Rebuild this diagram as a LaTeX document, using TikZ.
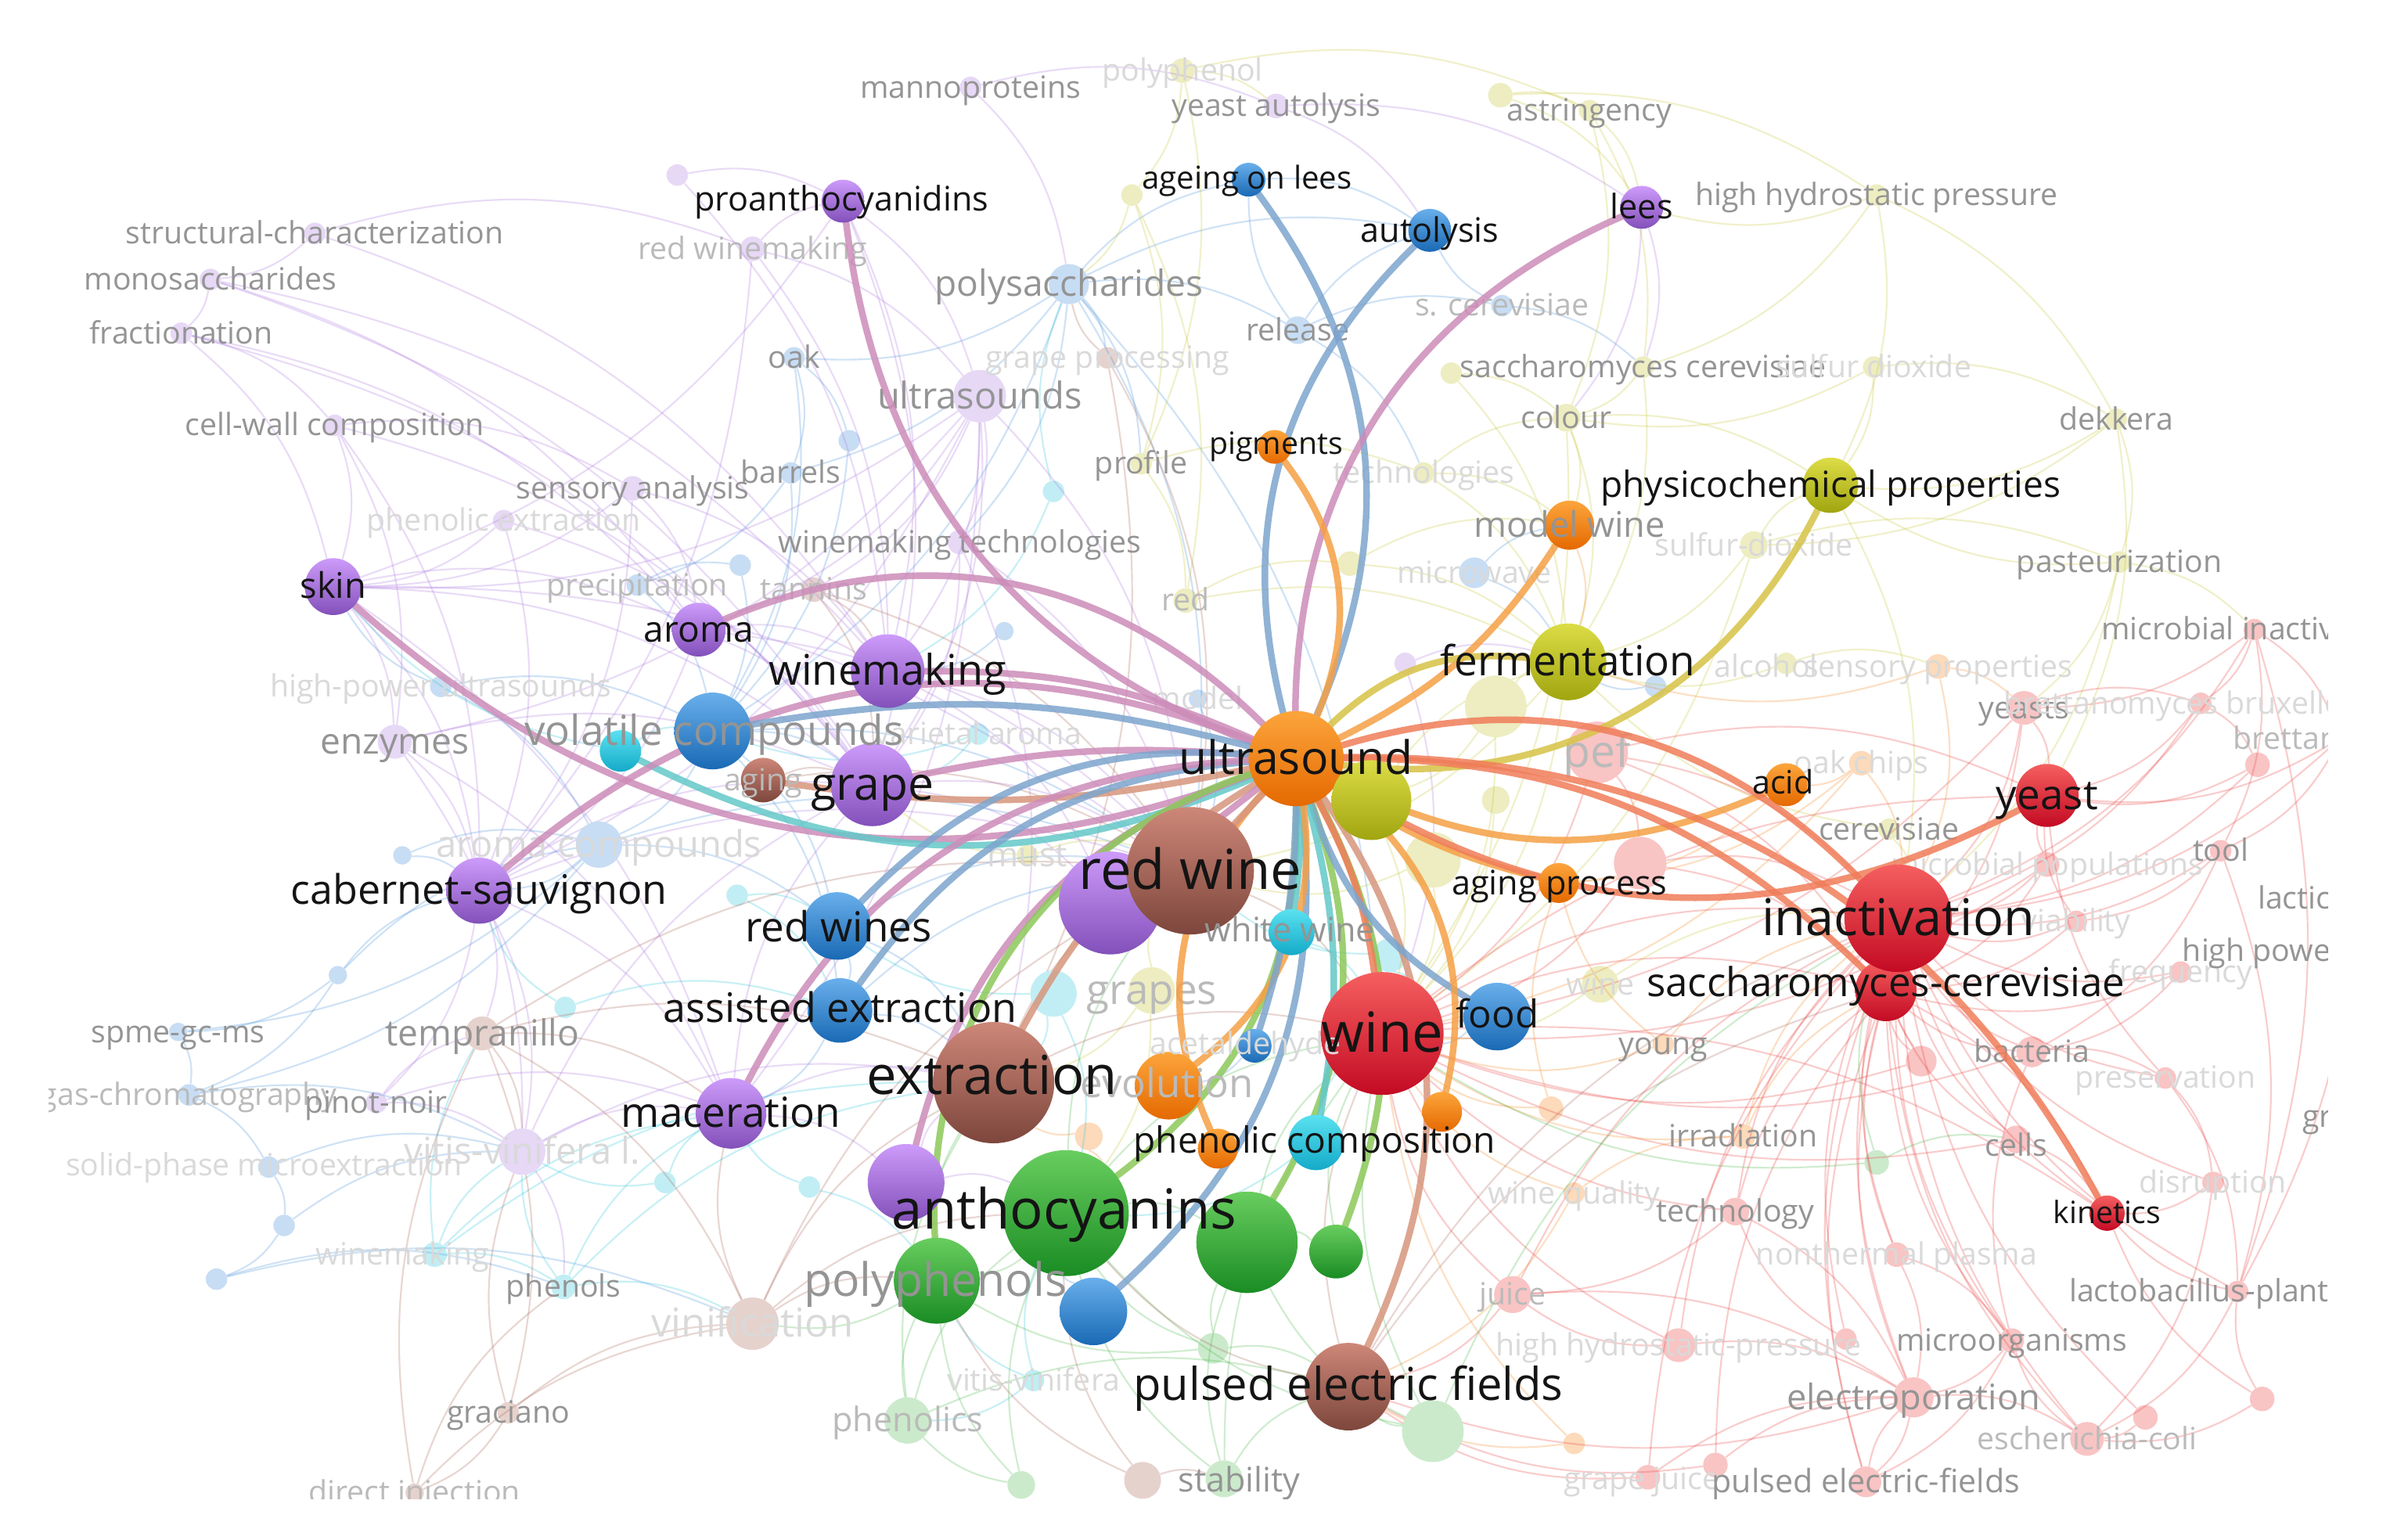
\documentclass[tikz,border=0pt]{standalone}
\usepackage{fontspec}
\setmainfont{Open Sans}
\definecolor{Rt}{RGB}{245,95,95}\definecolor{Rb}{RGB}{195,10,35}
\definecolor{Gt}{RGB}{105,205,95}\definecolor{Gb}{RGB}{25,140,35}
\definecolor{Bt}{RGB}{105,175,235}\definecolor{Bb}{RGB}{25,105,180}
\definecolor{Yt}{RGB}{220,220,70}\definecolor{Yb}{RGB}{160,165,15}
\definecolor{Pt}{RGB}{205,155,250}\definecolor{Pb}{RGB}{130,80,185}
\definecolor{Ct}{RGB}{90,225,240}\definecolor{Cb}{RGB}{20,170,200}
\definecolor{Ot}{RGB}{252,165,60}\definecolor{Ob}{RGB}{228,105,0}
\definecolor{Nt}{RGB}{205,135,120}\definecolor{Nb}{RGB}{125,70,60}
\definecolor{Rm}{RGB}{235,70,70}\definecolor{Gm}{RGB}{80,185,80}
\definecolor{Bm}{RGB}{80,150,220}\definecolor{Ym}{RGB}{200,200,60}
\definecolor{Pm}{RGB}{175,125,225}\definecolor{Cm}{RGB}{50,200,220}
\definecolor{Om}{RGB}{245,140,40}\definecolor{Nm}{RGB}{170,105,90}
\colorlet{fR}{Rm!32!white}\colorlet{fG}{Gm!30!white}\colorlet{fB}{Bm!32!white}
\colorlet{fY}{Ym!32!white}\colorlet{fP}{Pm!30!white}\colorlet{fC}{Cm!30!white}
\colorlet{fO}{Om!32!white}\colorlet{fN}{Nm!30!white}
\definecolor{eR}{RGB}{240,125,90}\definecolor{eP}{RGB}{205,140,185}
\definecolor{eB}{RGB}{125,165,205}\definecolor{eY}{RGB}{215,195,70}
\definecolor{eG}{RGB}{140,200,90}\definecolor{eN}{RGB}{215,150,125}
\definecolor{eC}{RGB}{100,200,200}\definecolor{eO}{RGB}{245,160,70}
\tikzset{
  hn/.style={circle, inner sep=0pt, minimum size=#1pt, draw=none},
  sR/.style={top color=Rt, bottom color=Rb},
  sG/.style={top color=Gt, bottom color=Gb},
  sB/.style={top color=Bt, bottom color=Bb},
  sY/.style={top color=Yt, bottom color=Yb},
  sP/.style={top color=Pt, bottom color=Pb},
  sC/.style={top color=Ct, bottom color=Cb},
  sO/.style={top color=Ot, bottom color=Ob},
  sN/.style={top color=Nt, bottom color=Nb},
  fe/.style={line width=1.1pt, opacity=0.27},
  he/.style={line width=4.3pt, opacity=0.85, line cap=round},
  hl/.style={text=black!92},
  L1/.style={text=black!42},
  L2/.style={text=black!27},
  L3/.style={text=black!15},
}
\newcommand\lab[5]{\node[anchor=base, inner sep=0pt, font=\fontsize{#3}{#3}\selectfont, #4] (#1) at ([yshift={-0.34*#3pt}]#2) {#5};}
\newcommand\fnd[5]{\node[hn=#4, fill=#5] (#1) at (#2,#3) {};}
\newcommand\hnd[5]{\node[hn=#4, #5] (#1) at (#2,#3) {};}
\begin{document}
\begin{tikzpicture}[x=1pt,y=-1pt]
\useasboundingbox (0,0) rectangle (1568,991);
\fill[white] (0,0) rectangle (1568,991);
\begin{scope}
\clip (32,0) rectangle (1516,976);
% ---------- node positions (faded) ----------
\fnd{mannop}{632}{57}{14}{fP}\fnd{polyph}{770}{46}{16}{fY}\fnd{yaut}{831}{69}{16}{fP}
\fnd{yn1}{977}{62}{16}{fY}\fnd{astr}{1035}{72}{14}{fY}\fnd{yn2}{737}{127}{14}{fY}
\fnd{pn1}{441}{114}{14}{fP}\fnd{hhp}{1222}{127}{14}{fY}\fnd{struc}{205}{152}{14}{fP}
\fnd{monos}{137}{182}{14}{fP}\fnd{fract}{118}{217}{14}{fP}\fnd{redwm}{490}{162}{16}{fP}
\fnd{polys}{696}{185}{26}{fB}\fnd{relea}{845}{215}{18}{fB}\fnd{scer}{978}{199}{14}{fB}
\fnd{oak}{517}{233}{14}{fB}\fnd{grpr}{721}{233}{14}{fN}\fnd{usds}{638}{258}{34}{fP}
\fnd{bn1}{553}{287}{14}{fB}\fnd{prof}{743}{302}{14}{fY}\fnd{cn1}{686}{320}{14}{fC}
\fnd{tech}{927}{308}{14}{fY}\fnd{saccb}{1070}{239}{14}{fY}\fnd{yn3}{945}{243}{14}{fY}
\fnd{sdiox}{1220}{239}{14}{fY}\fnd{colour}{1020}{272}{18}{fY}\fnd{dekk}{1378}{273}{14}{fY}
\fnd{cwc}{218}{277}{14}{fP}\fnd{sensa}{412}{318}{16}{fP}\fnd{barr}{515}{308}{14}{fB}
\fnd{phex}{328}{339}{14}{fP}\fnd{wmt}{625}{353}{16}{fP}\fnd{sfdx}{1142}{355}{18}{fY}
\fnd{past}{1380}{366}{14}{fY}\fnd{micw}{960}{373}{20}{fB}\fnd{yn4}{879}{367}{16}{fY}
\fnd{prec}{415}{381}{14}{fB}\fnd{bn2}{482}{368}{14}{fB}\fnd{tann}{530}{384}{16}{fN}
\fnd{red}{772}{391}{16}{fY}\fnd{bn3}{654}{411}{12}{fB}\fnd{pn2}{915}{432}{14}{fP}
\fnd{micin}{1468}{410}{14}{fR}\fnd{alc}{1163}{432}{14}{fY}\fnd{sensp}{1262}{434}{16}{fO}
\fnd{bn4}{1078}{447}{14}{fB}\fnd{hpu}{287}{447}{14}{fB}\fnd{enz}{257}{483}{22}{fP}
\fnd{model}{780}{455}{12}{fB}\fnd{varar}{637}{478}{14}{fC}\fnd{yeasts}{1318}{461}{22}{fR}
\fnd{bbrux}{1433}{458}{14}{fR}\fnd{rn1}{1470}{498}{16}{fR}\fnd{brett}{1524}{481}{14}{fR}
\fnd{yn5}{974}{460}{40}{fY}\fnd{yn6}{974}{521}{18}{fY}\fnd{yn7}{933}{560}{36}{fY}
\fnd{pef}{1040}{490}{40}{fR}\fnd{oakch}{1212}{497}{16}{fO}\fnd{arcomp}{390}{550}{30}{fB}
\fnd{bn5}{262}{557}{12}{fB}\fnd{must}{669}{557}{14}{fY}\fnd{cerev}{1230}{540}{14}{fY}
\fnd{mpop}{1333}{563}{16}{fR}\fnd{tool}{1446}{554}{14}{fR}\fnd{rn2}{1068}{562}{34}{fR}
\fnd{cn2}{480}{583}{14}{fC}\fnd{qdet}{220}{635}{12}{fB}\fnd{viab}{1352}{600}{14}{fR}
\fnd{freq}{1420}{633}{14}{fR}\fnd{grapes}{750}{645}{30}{fY}\fnd{cn3}{686}{647}{30}{fC}
\fnd{cn8}{905}{622}{22}{fC}\fnd{winef}{1042}{641}{24}{fY}\fnd{spme}{116}{672}{12}{fB}
\fnd{temp}{314}{673}{22}{fN}\fnd{cn4}{368}{656}{14}{fC}\fnd{young}{1083}{680}{14}{fO}
\fnd{bact}{1323}{685}{20}{fR}\fnd{rn3}{1251}{691}{20}{fR}\fnd{gaschr}{123}{713}{14}{fB}
\fnd{pinot}{245}{718}{14}{fP}\fnd{pres}{1410}{702}{14}{fR}\fnd{vitis}{340}{750}{30}{fP}
\fnd{spme2}{175}{760}{14}{fB}\fnd{cn5}{433}{770}{14}{fC}\fnd{cn6}{527}{773}{14}{fC}
\fnd{on1}{709}{740}{18}{fO}\fnd{on2}{1010}{722}{16}{fO}\fnd{irr}{1135}{740}{16}{fO}
\fnd{cells}{1313}{742}{18}{fR}\fnd{gn1}{1222}{757}{16}{fG}\fnd{disr}{1441}{770}{14}{fR}
\fnd{wq}{1025}{777}{14}{fO}\fnd{techn}{1130}{789}{18}{fR}\fnd{ntp}{1235}{817}{16}{fR}
\fnd{bn6}{185}{798}{14}{fB}\fnd{bn7}{141}{833}{14}{fB}\fnd{wmf}{283}{817}{16}{fC}
\fnd{phen}{367}{838}{16}{fC}\fnd{vinif}{490}{862}{34}{fN}\fnd{lacto}{1457}{841}{14}{fR}
\fnd{juice}{985}{843}{24}{fR}\fnd{hhp2}{1093}{876}{22}{fR}\fnd{rn4}{1202}{872}{14}{fR}
\fnd{microo}{1310}{873}{16}{fR}\fnd{gn2}{790}{878}{20}{fG}\fnd{cn7}{673}{899}{14}{fC}
\fnd{grac}{331}{920}{14}{fN}\fnd{phenlc}{591}{925}{30}{fG}\fnd{antiox}{933}{932}{40}{fG}
\fnd{on3}{1025}{940}{14}{fO}\fnd{elec}{1246}{910}{26}{fR}\fnd{esch}{1359}{937}{22}{fR}
\fnd{rn5}{1397}{923}{16}{fR}\fnd{rn6}{1473}{911}{16}{fR}\fnd{grj}{1073}{962}{16}{fR}
\fnd{rn7}{1117}{954}{16}{fR}\fnd{pefd}{1215}{965}{20}{fR}\fnd{stab}{797}{963}{24}{fG}
\fnd{nn1}{744}{964}{24}{fN}\fnd{gn3}{665}{967}{18}{fG}\fnd{dinj}{270}{972}{12}{fN}
% ---------- highlighted node positions (invisible anchors) ----------
\begin{scope}[opacity=0]
\hnd{U}{844}{494}{62}{}\hnd{yg}{893}{521}{52}{}\hnd{pbig}{723}{588}{67}{}
\hnd{rw}{775}{567}{83}{}\hnd{ww}{841}{607}{30}{}\hnd{wine}{900}{673}{80}{}
\hnd{food}{975}{662}{44}{}\hnd{sacc}{1228}{645}{40}{}\hnd{inact}{1236}{598}{70}{}
\hnd{yeast}{1333}{518}{41}{}\hnd{kin}{1372}{790}{23}{}\hnd{acid}{1163}{511}{28}{}
\hnd{agp}{1015}{575}{26}{}\hnd{ferm}{1021}{431}{50}{}\hnd{phys}{1192}{316}{36}{}
\hnd{mwine}{1022}{342}{32}{}\hnd{pigm}{830}{291}{22}{}\hnd{lees}{1069}{135}{28}{}
\hnd{autol}{931}{150}{28}{}\hnd{aol}{813}{117}{22}{}\hnd{proan}{549}{131}{28}{}
\hnd{skin}{217}{382}{37}{}\hnd{aroma}{455}{410}{35}{}\hnd{wmk}{578}{437}{48}{}
\hnd{volc}{464}{476}{50}{}\hnd{cyan1}{404}{489}{27}{}\hnd{aging}{497}{508}{29}{}
\hnd{grape}{568}{511}{54}{}\hnd{cab}{312}{580}{43}{}\hnd{rws}{545}{603}{44}{}
\hnd{asx}{547}{658}{42}{}\hnd{mac}{476}{725}{46}{}\hnd{extr}{647}{705}{79}{}
\hnd{evol}{761}{707}{44}{}\hnd{acet}{817}{681}{22}{}\hnd{or2}{939}{724}{26}{}
\hnd{or3}{793}{748}{26}{}\hnd{phc}{857}{744}{36}{}\hnd{pur2}{590}{770}{50}{}
\hnd{anth}{694}{790}{82}{}\hnd{polyp}{610}{834}{56}{}\hnd{bl2}{712}{854}{44}{}
\hnd{gr1}{812}{809}{66}{}\hnd{gr2}{870}{815}{35}{}\hnd{pefl}{878}{903}{57}{}
\end{scope}
% ---------- faint links ----------
\foreach \a/\b in {struc/monos,struc/redwm,monos/fract,monos/wmk,monos/grape,fract/cwc,fract/grape,fract/aroma,cwc/sensa,cwc/skin,cwc/enz,redwm/proan,redwm/usds,redwm/wmk,redwm/cab,proan/usds,proan/wmk,proan/grape,proan/skin,mannop/yaut,mannop/polys,yaut/lees,yaut/autol,pn1/proan,pn1/wmk,usds/wmk,usds/grape,usds/aroma,usds/tann,usds/cab,usds/enz,usds/wmt,usds/mac,sensa/aroma,sensa/wmk,sensa/skin,phex/skin,phex/grape,phex/cab,wmt/grape,wmt/extr,skin/aroma,skin/grape,skin/enz,skin/cab,skin/mac,aroma/grape,aroma/cab,aroma/wmk,enz/grape,enz/cab,enz/mac,enz/vitis,cab/vitis,cab/pinot,cab/grape,cab/mac,cab/temp,pinot/vitis,pinot/temp,vitis/mac,vitis/grape,vitis/phen,mac/grape,mac/pur2,mac/extr,grape/pbig,wmk/pbig,pur2/anth,pur2/extr,lees/saccb,lees/colour,pn2/ferm,pn2/wine,struc/wmk,monos/aroma,fract/skin,cwc/grape,cwc/cab,usds/skin,usds/rw,wmt/rw,sensa/cab,pinot/mac,vitis/extr,grape/rw,wmk/rw,aroma/rw,cab/rw,skin/rw}
  \draw[fe, draw=Pm] (\a) to[bend left=18] (\b);
\foreach \a/\b in {polys/relea,polys/oak,polys/barr,polys/wmt,polys/grpr,polys/prof,polys/aol,polys/autol,polys/volc,relea/aol,relea/autol,relea/scer,relea/tech,scer/autol,scer/saccb,oak/barr,oak/volc,oak/bn1,barr/volc,barr/prec,bn1/volc,prec/volc,prec/bn2,bn2/volc,hpu/volc,hpu/arcomp,hpu/skin,volc/arcomp,volc/rws,volc/asx,volc/grape,arcomp/rws,arcomp/cab,arcomp/spme,arcomp/gaschr,bn5/arcomp,bn5/cab,qdet/arcomp,qdet/gaschr,qdet/spme,spme/gaschr,gaschr/spme2,spme2/bn6,bn6/bn7,bn7/vinif,spme2/vitis,rws/asx,rws/extr,asx/extr,asx/mac,micw/ferm,micw/mwine,model/rw,bn3/wmk,bn4/ferm,food/wine,bl2/anth,acet/evol,aol/autol,polys/rw,polys/wine,volc/rw,arcomp/rw,rws/rw,asx/rw,qdet/cab,gaschr/vitis,bn6/vitis,bn7/phen}
  \draw[fe, draw=Bm] (\a) to[bend left=18] (\b);
\foreach \a/\b in {cn1/polys,cn1/wmk,varar/volc,varar/grape,cn2/rws,cn2/asx,cn3/extr,cn3/rws,cn4/cab,cn4/asx,cn5/mac,cn5/vitis,cn6/mac,cn6/polyp,wmf/vitis,wmf/phen,wmf/mac,wmf/temp,phen/vitis,phen/mac,phen/vinif,cn7/anth,cn7/polyp,cn7/phenlc,ww/wine,phc/anth,phc/wine,cyan1/volc,cyan1/skin,cn8/wine,cn8/rw,wmf/extr,phen/extr,cn3/anth}
  \draw[fe, draw=Cm] (\a) to[bend left=18] (\b);
\foreach \a/\b in {polyph/yaut,polyph/yn2,polyph/astr,yn1/astr,yn1/lees,yn1/hhp,astr/lees,astr/saccb,astr/colour,hhp/lees,hhp/dekk,hhp/phys,yn2/prof,yn2/polys,prof/red,prof/tech,tech/colour,tech/mwine,saccb/colour,saccb/ferm,yn3/colour,yn3/ferm,sdiox/phys,sdiox/dekk,sdiox/colour,colour/mwine,colour/ferm,colour/phys,dekk/past,dekk/sfdx,sfdx/phys,sfdx/ferm,sfdx/past,past/yeasts,past/micin,red/yn4,red/ferm,yn4/ferm,yn4/mwine,alc/ferm,alc/sensp,must/grape,must/rw,grapes/rw,grapes/anth,grapes/extr,cerev/inact,cerev/ferm,winef/wine,winef/inact,yg/ferm,yg/wine,yn5/ferm,yn5/wine,yn6/wine,yn7/rw,yn7/wine,yn5/yg,dekk/phys,past/phys,hhp/saccb,polyph/prof,yn2/red,tech/ferm,colour/wine,phys/inact,ferm/wine,ferm/rw,sfdx/wine,dekk/yeast,past/inact}
  \draw[fe, draw=Ym] (\a) to[bend left=18] (\b);
\foreach \a/\b in {micin/yeasts,micin/bbrux,micin/inact,micin/brett,yeasts/inact,yeasts/yeast,yeasts/bbrux,yeasts/sacc,bbrux/yeast,bbrux/rn1,rn1/yeast,rn1/inact,brett/yeast,brett/tool,pef/inact,pef/wine,pef/rn2,rn2/inact,rn2/wine,mpop/yeast,mpop/inact,mpop/sacc,tool/inact,tool/viab,tool/lacto,viab/inact,viab/sacc,freq/inact,freq/bact,bact/inact,bact/sacc,bact/pres,rn3/inact,rn3/wine,pres/inact,pres/yeast,cells/inact,cells/sacc,cells/kin,disr/inact,disr/kin,techn/inact,techn/wine,techn/juice,ntp/inact,ntp/microo,lacto/inact,lacto/kin,juice/wine,juice/pefl,hhp2/inact,hhp2/wine,hhp2/juice,rn4/inact,rn4/techn,microo/inact,microo/elec,microo/bact,elec/inact,elec/pefl,elec/esch,elec/pefd,esch/inact,esch/microo,rn5/inact,rn6/lacto,rn6/kin,grj/inact,grj/pefl,rn7/elec,rn7/sacc,pefd/inact,pefd/elec,wine/sacc,wine/inact,sacc/kin,kin/inact,micin/tool,micin/lacto,brett/lacto,tool/bact,pres/lacto,pres/disr,disr/esch,lacto/esch,rn5/esch,rn6/esch,microo/pefd,ntp/elec,techn/elec,juice/elec,hhp2/elec,yeasts/wine,bbrux/inact,brett/inact,mpop/wine,viab/yeast,freq/sacc,bact/wine,cells/wine,rn3/sacc,techn/sacc,ntp/sacc,microo/sacc,elec/sacc,esch/sacc,juice/inact,pef/sacc,pef/yeast,rn2/sacc,grj/elec,rn7/pefl,pefd/sacc,wine/yeast,wine/kin}
  \draw[fe, draw=Rm] (\a) to[bend left=18] (\b);
\foreach \a/\b in {sensp/ferm,sensp/yeasts,oakch/acid,oakch/inact,oakch/agp,young/wine,young/agp,irr/inact,irr/wine,wq/wine,wq/irr,on1/extr,on1/anth,on2/wine,on3/pefl,acid/agp,mwine/ferm,sensp/inact,oakch/wine,irr/sacc,wq/pefl,on2/agp,young/inact,on3/wine}
  \draw[fe, draw=Om] (\a) to[bend left=18] (\b);
\foreach \a/\b in {gn1/inact,gn1/cells,gn2/anth,gn2/pefl,gn2/gr1,antiox/pefl,antiox/wine,antiox/gr1,phenlc/anth,phenlc/polyp,phenlc/pefl,stab/anth,stab/pefl,gn3/polyp,gn3/phenlc,anth/polyp,anth/gr1,gr1/gr2,gr2/wine,polyp/vinif,gn1/wine,antiox/anth,stab/gr1,gn3/anth,phenlc/extr,gn2/polyp,anth/wine,gr1/wine,anth/rw,polyp/extr,stab/wine,antiox/inact}
  \draw[fe, draw=Gm] (\a) to[bend left=18] (\b);
\foreach \a/\b in {grpr/polys,grpr/rw,grpr/extr,tann/rw,tann/wmk,tann/grape,aging/grape,aging/rw,temp/vitis,temp/grac,temp/vinif,temp/extr,temp/rw,grac/vinif,grac/dinj,dinj/vinif,dinj/temp,vinif/extr,vinif/anth,vinif/polyp,vinif/rw,nn1/anth,nn1/stab,extr/rw,pefl/wine,pefl/inact,grac/vitis,dinj/phen,vinif/mac,temp/mac,nn1/polyp,pefl/sacc,extr/wine,rw/wine,pefl/anth}
  \draw[fe, draw=Nm] (\a) to[bend left=18] (\b);
% redraw larger faded nodes over faint links
\fnd{mannop2}{632}{57}{14}{fP}\fnd{usds2}{638}{258}{34}{fP}\fnd{polys2}{696}{185}{26}{fB}
\fnd{pef2}{1040}{490}{40}{fR}\fnd{rn2b}{1068}{562}{34}{fR}\fnd{vinif2}{490}{862}{34}{fN}
\fnd{vitis2}{340}{750}{30}{fP}\fnd{arcomp2}{390}{550}{30}{fB}\fnd{grapes2}{750}{645}{30}{fY}
\fnd{cn3b}{686}{647}{30}{fC}\fnd{antiox2}{933}{932}{40}{fG}\fnd{phenlc2}{591}{925}{30}{fG}
\fnd{yn5b}{974}{460}{40}{fY}\fnd{yn7b}{933}{560}{36}{fY}\fnd{enz2}{257}{483}{22}{fP}
\fnd{temp2}{314}{673}{22}{fN}\fnd{elec2}{1246}{910}{26}{fR}\fnd{juice2}{985}{843}{24}{fR}
% ---------- faded labels ----------
\lab{mannop-l}{mannop}{20}{L1}{mannoproteins}
\lab{polyph-l}{polyph}{20}{L3}{polyphenol}
\lab{yaut-l}{yaut}{20}{L1}{yeast autolysis}
\lab{astr-l}{astr}{20}{L1}{astringency}
\lab{hhp-l}{hhp}{20}{L1}{high hydrostatic pressure}
\lab{struc-l}{struc}{20}{L1}{structural-characterization}
\lab{monos-l}{monos}{20}{L1}{monosaccharides}
\lab{fract-l}{fract}{20}{L1}{fractionation}
\lab{redwm-l}{redwm}{20}{L2}{red winemaking}
\lab{polys-l}{polys}{23.5}{L1}{polysaccharides}
\lab{relea-l}{relea}{20}{L1}{release}
\lab{scer-l}{scer}{20}{L2}{s. cerevisiae}
\lab{oak-l}{oak}{20}{L1}{oak}
\lab{grpr-l}{grpr}{20}{L3}{grape processing}
\lab{usds-l}{usds}{24}{L1}{ultrasounds}
\lab{prof-l}{prof}{20}{L1}{profile}
\lab{tech-l}{tech}{20}{L3}{technologies}
\lab{saccb-l}{saccb}{20}{L1}{saccharomyces cerevisiae}
\lab{sdiox-l}{sdiox}{20}{L3}{sulfur dioxide}
\lab{colour-l}{colour}{20}{L1}{colour}
\lab{dekk-l}{dekk}{20}{L1}{dekkera}
\lab{cwc-l}{cwc}{20}{L1}{cell-wall composition}
\lab{sensa-l}{sensa}{20}{L1}{sensory analysis}
\lab{barr-l}{barr}{20}{L1}{barrels}
\lab{phex-l}{phex}{20}{L3}{phenolic extraction}
\lab{wmt-l}{wmt}{20}{L1}{winemaking technologies}
\lab{sfdx-l}{sfdx}{20}{L3}{sulfur-dioxide}
\lab{past-l}{past}{20}{L1}{pasteurization}
\lab{micw-l}{micw}{20}{L3}{microwave}
\lab{prec-l}{prec}{20}{L2}{precipitation}
\lab{tann-l}{tann}{20}{L2}{tannins}
\lab{red-l}{red}{20}{L2}{red}
\lab{micin-l}{micin}{20}{L1}{microbial inactivation}
\lab{alc-l}{1150,434}{20}{L3}{alcohol}
\lab{sensp-l}{sensp}{20}{L3}{sensory properties}
\lab{hpu-l}{hpu}{20}{L3}{high-power ultrasounds}
\lab{enz-l}{enz}{23.5}{L1}{enzymes}
\lab{model-l}{model}{20}{L3}{model}
\lab{varar-l}{varar}{20}{L3}{varietal aroma}
\lab{yeasts-l}{yeasts}{20}{L1}{yeasts}
\lab{bbrux-l}{bbrux}{20}{L3}{brettanomyces bruxellensis}
\lab{brett-l}{brett}{20}{L2}{brettanomyces}
\lab{pef-l}{pef}{29}{L2}{pef}
\lab{oakch-l}{oakch}{20}{L3}{oak chips}
\lab{arcomp-l}{arcomp}{24}{L3}{aroma compounds}
\lab{must-l}{must}{22}{L3}{must}
\lab{cerev-l}{cerev}{20}{L1}{cerevisiae}
\lab{mpop-l}{mpop}{20}{L3}{microbial populations}
\lab{tool-l}{tool}{20}{L1}{tool}
\lab{lactic-l}{1470,585}{20}{L1,anchor=base west}{lactic}
\lab{viab-l}{viab}{20}{L3}{viability}
\lab{freq-l}{freq}{20}{L3}{frequency}
\lab{hpow-l}{1421,619}{20}{L1,anchor=base west}{high power}
\lab{grapes-l}{grapes}{27}{L2}{grapes}
\lab{winef-l}{winef}{20}{L3}{wine}
\lab{spme-l}{spme}{20}{L1}{spme-gc-ms}
\lab{temp-l}{temp}{23.5}{L1}{tempranillo}
\lab{young-l}{young}{20}{L1}{young}
\lab{bact-l}{bact}{20}{L1}{bacteria}
\lab{gaschr-l}{gaschr}{20}{L2}{gas-chromatography}
\lab{pinot-l}{pinot}{20}{L1}{pinot-noir}
\lab{pres-l}{pres}{20}{L3}{preservation}
\lab{gr-l}{1499,727}{20}{L1,anchor=base west}{gr}
\lab{vitis-l}{vitis}{24}{L3}{vitis-vinifera l.}
\lab{spme2-l}{172,759}{20}{L3}{solid-phase microextraction}
\lab{irr-l}{irr}{20}{L1}{irradiation}
\lab{cells-l}{1313,746}{20}{L1}{cells}
\lab{disr-l}{disr}{20}{L3}{disruption}
\lab{wq-l}{wq}{20}{L3}{wine quality}
\lab{techn-l}{techn}{20}{L1}{technology}
\lab{ntp-l}{ntp}{20}{L3}{nonthermal plasma}
\lab{wmf-l}{262,817}{20}{L3}{winemaking}
\lab{phen-l}{phen}{20}{L1}{phenols}
\lab{vinif-l}{vinif}{26}{L3}{vinification}
\lab{lacto-l}{lacto}{20}{L1}{lactobacillus-plantarum}
\lab{juice-l}{juice}{20}{L2}{juice}
\lab{hhp2-l}{hhp2}{20}{L3}{high hydrostatic-pressure}
\lab{microo-l}{microo}{20}{L1}{microorganisms}
\lab{cn7-l}{cn7}{20}{L3}{vitis-vinifera}
\lab{grac-l}{grac}{20}{L1}{graciano}
\lab{phenlc-l}{phenlc}{22}{L2}{phenolics}
\lab{elec-l}{elec}{23}{L1}{electroporation}
\lab{esch-l}{esch}{20}{L2}{escherichia-coli}
\lab{grj-l}{1069,963}{20}{L3}{grape juice}
\lab{pefd-l}{pefd}{21}{L1}{pulsed electric-fields}
\lab{stab-l}{807,964}{22}{L1}{stability}
\lab{dinj-l}{dinj}{20}{L2}{direct injection}
% ---------- highlighted links (all from ultrasound) ----------
\foreach \tg/\cl/\bd in {proan/eP/31,aol/eB/-30,autol/eB/30,lees/eP/33,pigm/eO/-30,mwine/eO/-15,phys/eY/-35,ferm/eY/25,acid/eO/-25,agp/eO/-10,yeast/eR/-30,inact/eR/31,sacc/eR/22,kin/eR/31,skin/eP/31,cyan1/eC/25,cab/eP/-31,aroma/eP/-34,wmk/eP/-12,grape/eP/-8,volc/eB/-12,aging/eN/10,rws/eB/-25,asx/eB/-25,mac/eP/-30,extr/eN/-15,pur2/eP/-28,anth/eG/27,polyp/eG/-37,bl2/eB/27,gr1/eG/25,gr2/eG/24,pefl/eN/30,wine/eR/10,food/eB/-20,ww/eC/5,or2/eO/33,phc/eC/12,or3/eO/-33,evol/eO/30,acet/eB/8,pbig/eP/0,rw/eN/0,yg/eY/0}
  \draw[he, draw=\cl] (U) to[bend left=\bd] (\tg);
% ---------- highlighted nodes ----------
\hnd{U2}{844}{494}{62}{sO}\hnd{yg2}{893}{521}{52}{sY}\hnd{pbig2}{723}{588}{67}{sP}
\hnd{rw2}{775}{567}{83}{sN}\hnd{ww2}{841}{607}{30}{sC}\hnd{wine2}{900}{673}{80}{sR}
\hnd{food2}{975}{662}{44}{sB}\hnd{sacc2}{1228}{645}{40}{sR}\hnd{inact2}{1236}{598}{70}{sR}
\hnd{yeast2}{1333}{518}{41}{sR}\hnd{kin2}{1372}{790}{23}{sR}\hnd{acid2}{1163}{511}{28}{sO}
\hnd{agp2}{1015}{575}{26}{sO}\hnd{ferm2}{1021}{431}{50}{sY}\hnd{phys2}{1192}{316}{36}{sY}
\hnd{mwine2}{1022}{342}{32}{sO}\hnd{pigm2}{830}{291}{22}{sO}\hnd{lees2}{1069}{135}{28}{sP}
\hnd{autol2}{931}{150}{28}{sB}\hnd{aol2}{813}{117}{22}{sB}\hnd{proan2}{549}{131}{28}{sP}
\hnd{skin2}{217}{382}{37}{sP}\hnd{aroma2}{455}{410}{35}{sP}\hnd{wmk2}{578}{437}{48}{sP}
\hnd{volc2}{464}{476}{50}{sB}\hnd{cyan12}{404}{489}{27}{sC}\hnd{aging2}{497}{508}{29}{sN}
\hnd{grape2}{568}{511}{54}{sP}\hnd{cab2}{312}{580}{43}{sP}\hnd{rws2}{545}{603}{44}{sB}
\hnd{asx2}{547}{658}{42}{sB}\hnd{mac2}{476}{725}{46}{sP}\hnd{extr2}{647}{705}{79}{sN}
\hnd{evol2}{761}{707}{44}{sO}\hnd{acet2}{817}{681}{22}{sB}\hnd{or22}{939}{724}{26}{sO}
\hnd{or32}{793}{748}{26}{sO}\hnd{phc2}{857}{744}{36}{sC}\hnd{pur22}{590}{770}{50}{sP}
\hnd{anth2}{694}{790}{82}{sG}\hnd{polyp2}{610}{834}{56}{sG}\hnd{bl22}{712}{854}{44}{sB}
\hnd{gr12}{812}{809}{66}{sG}\hnd{gr22}{870}{815}{35}{sG}\hnd{pefl2}{878}{903}{57}{sN}
% ---------- grey labels of highlighted nodes ----------
\lab{volc-l}{465,476}{27}{L1}{volatile compounds}
\lab{aging-l}{aging}{20}{L2}{aging}
\lab{mwine-l}{mwine}{23}{L1}{model wine}
\lab{ww-l}{840,606}{22}{L1}{white wine}
\lab{acet-l}{811,680}{20}{L3}{acetaldehyde}
\lab{evol-l}{760,706}{26}{L2}{evolution}
\lab{polyp-l}{609,834}{30}{L1}{polyphenols}
% ---------- black labels ----------
\lab{U-l}{U}{30}{hl}{ultrasound}
\lab{rw-l}{rw}{36}{hl}{red wine}
\lab{wine-l}{wine}{36}{hl}{wine}
\lab{inact-l}{inact}{33}{hl}{inactivation}
\lab{sacc-l}{1228,640}{26}{hl}{saccharomyces-cerevisiae}
\lab{yeast-l}{yeast}{27}{hl}{yeast}
\lab{kin-l}{kin}{20}{hl}{kinetics}
\lab{acid-l}{1161,510}{21}{hl}{acid}
\lab{agp-l}{1015.5,575}{22}{hl}{aging process}
\lab{ferm-l}{ferm}{27}{hl}{fermentation}
\lab{phys-l}{phys}{23.5}{hl}{physicochemical properties}
\lab{pigm-l}{831,289}{20}{hl}{pigments}
\lab{lees-l}{lees}{22}{hl}{lees}
\lab{autol-l}{autol}{22}{hl}{autolysis}
\lab{aol-l}{812,116}{20.5}{hl}{ageing on lees}
\lab{proan-l}{548,130}{22}{hl}{proanthocyanidins}
\lab{skin-l}{skin}{23}{hl}{skin}
\lab{aroma-l}{aroma}{23.5}{hl}{aroma}
\lab{wmk-l}{wmk}{27.5}{hl}{winemaking}
\lab{grape-l}{grape}{30}{hl}{grape}
\lab{cab-l}{cab}{26.5}{hl}{cabernet-sauvignon}
\lab{rws-l}{546,604}{27}{hl}{red wines}
\lab{asx-l}{547,657}{26.5}{hl}{assisted extraction}
\lab{mac-l}{mac}{27}{hl}{maceration}
\lab{extr-l}{646,701}{35}{hl}{extraction}
\lab{food-l}{975,661}{25}{hl}{food}
\lab{phc-l}{856,743}{23.5}{hl}{phenolic composition}
\lab{anth-l}{693,788}{36}{hl}{anthocyanins}
\lab{pefl-l}{878,902}{29.5}{hl}{pulsed electric fields}
\end{scope}
\end{tikzpicture}
\end{document}
